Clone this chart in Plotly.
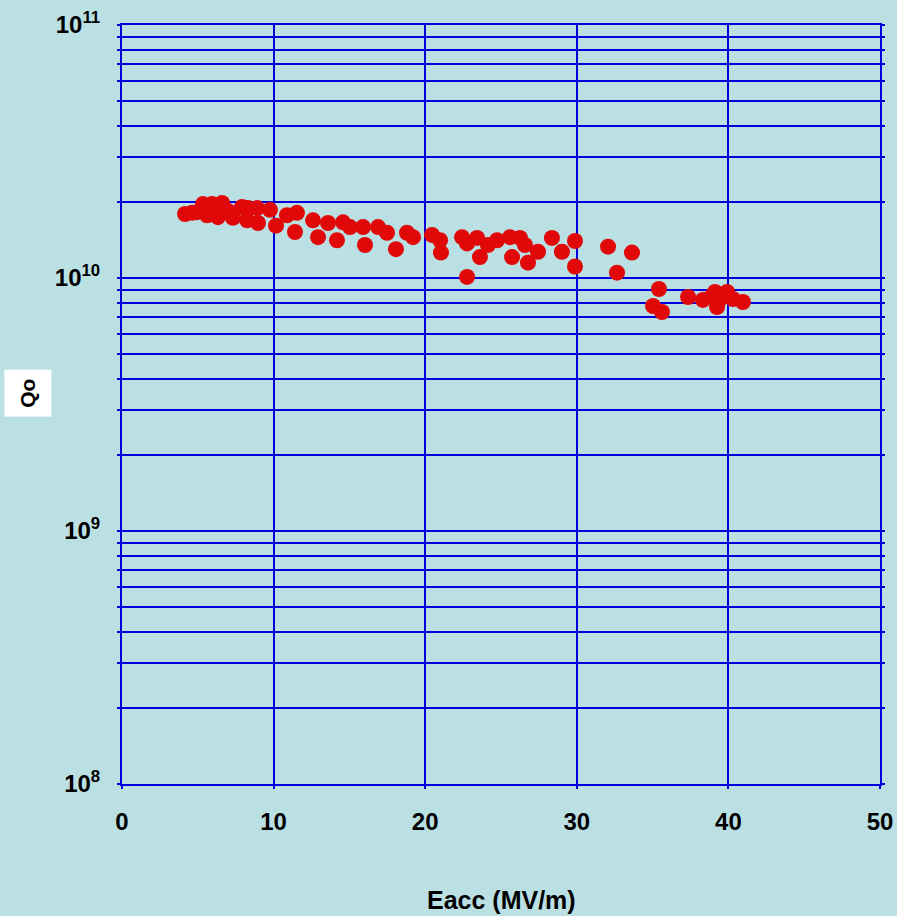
import plotly.graph_objects as go

# Data (Eacc in MV/m, Q0)
eacc = [4.16, 4.62, 4.95, 5.34, 5.61, 5.94, 6.33, 6.60, 6.99, 7.32,
        7.92, 8.31, 8.25, 8.91, 8.97, 9.76, 10.16, 10.88, 11.54, 11.41,
        12.60, 12.93, 13.59, 14.18, 14.58, 15.04, 15.90, 16.03, 16.89, 17.48,
        18.07, 18.80, 19.20, 20.45, 20.98, 21.04, 22.43, 22.76, 22.76, 23.42,
        23.61, 24.14, 24.74, 25.59, 26.25, 25.73, 26.58, 26.78, 27.44, 28.36,
        29.02, 29.88, 29.88, 32.06, 32.65, 33.64, 35.03, 35.42, 35.62, 37.34,
        38.32, 38.92, 39.12, 39.25, 39.45, 39.91, 40.30, 40.96]
q0 = [1.79e10, 1.81e10, 1.82e10, 1.96e10, 1.77e10, 1.96e10, 1.74e10, 1.98e10, 1.84e10, 1.73e10,
      1.91e10, 1.89e10, 1.69e10, 1.89e10, 1.65e10, 1.86e10, 1.61e10, 1.77e10, 1.81e10, 1.52e10,
      1.69e10, 1.45e10, 1.65e10, 1.41e10, 1.66e10, 1.59e10, 1.59e10, 1.35e10, 1.59e10, 1.51e10,
      1.30e10, 1.51e10, 1.45e10, 1.48e10, 1.41e10, 1.26e10, 1.45e10, 1.37e10, 1.01e10, 1.44e10,
      1.21e10, 1.35e10, 1.41e10, 1.45e10, 1.44e10, 1.21e10, 1.35e10, 1.15e10, 1.27e10, 1.44e10,
      1.27e10, 1.40e10, 1.11e10, 1.33e10, 1.05e10, 1.26e10, 7.75e9, 9.05e9, 7.34e9, 8.41e9,
      8.19e9, 8.49e9, 8.81e9, 7.68e9, 8.26e9, 8.81e9, 8.26e9, 8.04e9]

x_ticks = [0, 10, 20, 30, 40, 50]
y_decades = [1e8, 1e9, 1e10, 1e11]
y_decade_labels = ["10<sup>8</sup>", "10<sup>9</sup>", "10<sup>10</sup>", "10<sup>11</sup>"]
minor_mult = [2, 3, 4, 5, 6, 7, 8, 9]

y_tickvals = []
y_ticktext = []
for d, lab in zip(y_decades, y_decade_labels):
    y_tickvals.append(d)
    y_ticktext.append(lab)
    if d < 1e11:
        for m in minor_mult:
            y_tickvals.append(d * m)
            y_ticktext.append("")

BG = "#BAE0E3"
BLUE = "#0000DD"
FONT = "Liberation Sans, Arial, sans-serif"

fig = go.Figure()
fig.add_trace(go.Scatter(
    x=eacc, y=q0, mode="markers",
    marker=dict(color="#E00808", size=16, line=dict(width=0)),
    showlegend=False,
))

fig.update_layout(
    width=897, height=916,
    margin=dict(l=122, r=17, t=25, b=132),
    paper_bgcolor=BG, plot_bgcolor=BG,
    font=dict(family=FONT, color="black"),
    xaxis=dict(
        range=[0, 50], tickvals=x_ticks, showgrid=True, gridcolor=BLUE, gridwidth=2,
        showline=True, linecolor=BLUE, linewidth=2, mirror=True,
        ticks="outside", ticklen=3, tickcolor=BLUE, tickwidth=2,
        ticklabelstandoff=12, automargin=False,
        tickfont=dict(size=24, family=FONT, weight="bold"),
        zeroline=False,
    ),
    yaxis=dict(
        type="log", range=[8, 11], tickvals=y_tickvals, ticktext=y_ticktext,
        showgrid=True, gridcolor=BLUE, gridwidth=2,
        showline=True, linecolor=BLUE, linewidth=2, mirror="allticks",
        ticks="outside", ticklen=3, tickcolor=BLUE, tickwidth=2,
        ticklabelstandoff=12, automargin=False,
        tickfont=dict(size=24, family=FONT, weight="bold"),
        zeroline=False,
    ),
    annotations=[
        dict(text="<b>Eacc (MV/m)</b>", xref="paper", yref="paper",
             x=0.5, y=-0.153, xanchor="center", yanchor="middle",
             showarrow=False, font=dict(size=25, family=FONT, color="black")),
        dict(text="<b>Qo</b>", xref="paper", yref="paper",
             x=-0.124, y=0.515, xanchor="center", yanchor="middle",
             showarrow=False, textangle=-90, bgcolor="white",
             width=44, height=44,
             font=dict(size=21, family=FONT, color="black")),
    ],
)

fig.write_html("out.html", config={"displayModeBar": False},
               post_script="document.body.style.margin='0px';")
